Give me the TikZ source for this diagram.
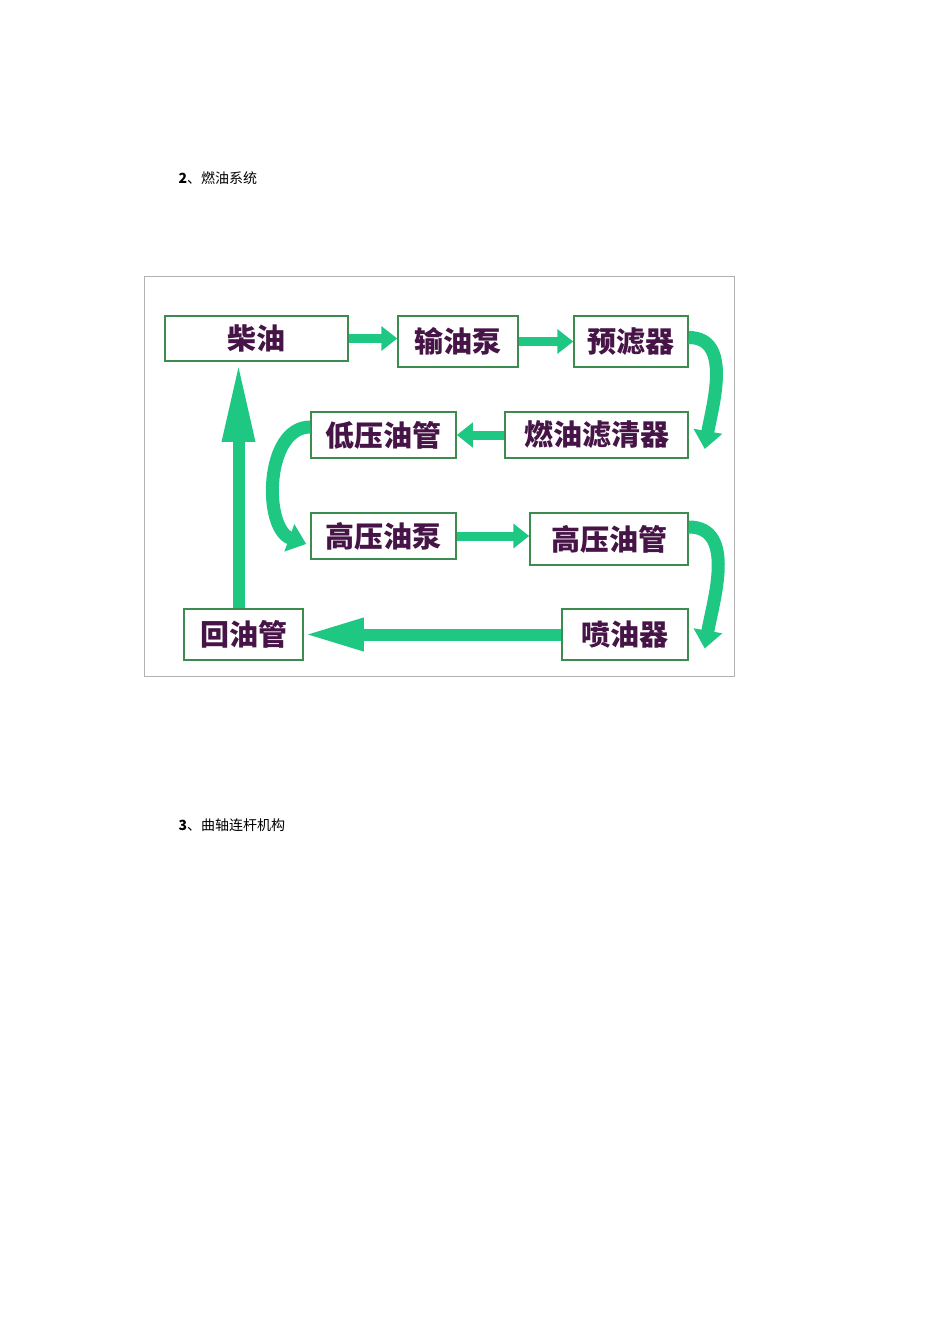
\documentclass[tikz,border=0pt]{standalone}
\usepackage{fontspec}
\newfontfamily\cjk{Noto Sans CJK SC}
\usetikzlibrary{arrows.meta,calc}
\definecolor{arrowgreen}{RGB}{30,200,130}
\definecolor{boxgreen}{RGB}{60,140,80}
\definecolor{txtpurple}{RGB}{70,20,70}
\begin{document}
\begin{tikzpicture}[x=1pt,y=-1pt,
  box/.style={draw=boxgreen,line width=1.5pt,fill=white,inner sep=0pt,font=\cjk\fontsize{29}{31}\selectfont\bfseries,text=txtpurple},
  fat/.style={draw=arrowgreen,line width=9pt,-{Triangle[length=16pt,width=24pt]}},
  curv/.style={draw=arrowgreen,line width=13pt,-{Triangle[length=18pt,width=28pt]}},
  head/.style={font=\cjk\fontsize{14}{16}\selectfont,anchor=west}]
\useasboundingbox (0,0) rectangle (950,1344);
\node[head] (h2) at (175,178) {\textbf{2}、燃油系统};
\node[head] (h3) at (175,825) {\textbf{3}、曲轴连杆机构};
\draw[gray!60,line width=0.8pt] (144,276) rectangle (734,676);
\node[box,minimum width=183pt,minimum height=45pt] (a) at (256.5,338.5) {柴油};
\node[box,minimum width=120pt,minimum height=51pt] (b) at (458,341.5) {输油泵};
\node[box,minimum width=114pt,minimum height=51pt] (c) at (631,341.5) {预滤器};
\node[box,minimum width=183pt,minimum height=46pt] (d) at (596.5,435) {燃油滤清器};
\node[box,minimum width=145pt,minimum height=46pt] (e) at (383.5,435) {低压油管};
\node[box,minimum width=145pt,minimum height=46pt] (f) at (383.5,536) {高压油泵};
\node[box,minimum width=158pt,minimum height=52pt] (g) at (609,539) {高压油管};
\node[box,minimum width=126pt,minimum height=51pt] (h) at (625,634.5) {喷油器};
\node[box,minimum width=119pt,minimum height=51pt] (i) at (243.5,634.5) {回油管};
\draw[fat] (a.east) -- (a.east -| b.west);
\draw[fat] (b.east) -- (c.west);
\draw[curv] ($(c.east)+(0,-4)$) to[out=0,in=80] ($(d.east)+(16,14)$);
\draw[fat] (d.west) -- (e.east);
\draw[curv] ($(e.west)+(0,-8)$) to[out=180,in=160] ($(f.west)+(-4,8)$);
\draw[fat] (f.east) -- (f.east -| g.west);
\draw[curv] ($(g.east)+(0,-12)$) to[out=0,in=80] ($(h.east)+(16,14)$);
\draw[fat,line width=12pt,-{Triangle[length=60pt,width=30pt]}] (h.west) -- (i.east);
\draw[fat,line width=12pt,-{Triangle[length=80pt,width=30pt]}] (i.north -| a.south) ++(-18,0) coordinate (ib) -- (ib |- a.south);
\end{tikzpicture}
\end{document}
